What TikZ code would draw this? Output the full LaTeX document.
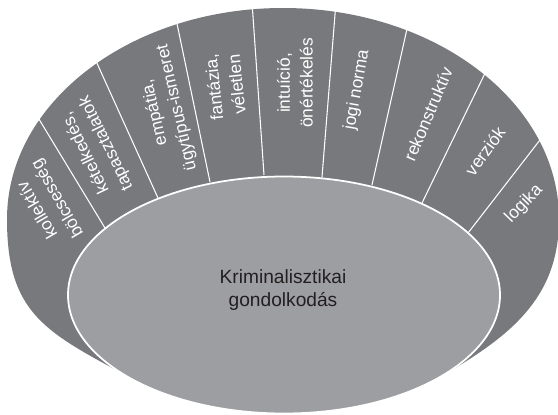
\documentclass[tikz,border=0pt]{standalone}
\usepackage{fontspec}
\setmainfont{Liberation Sans}
\definecolor{ringgray}{HTML}{78797D}
\definecolor{coregray}{HTML}{9D9EA2}
\definecolor{coretext}{HTML}{231F20}
\begin{document}
\begin{tikzpicture}[x=0.02cm, y=0.02cm,
    divider/.style={white, line width=0.6pt},
    seglabel/.style={white, align=center, inner sep=0pt, font=\fontsize{9.9}{13}\selectfont}]
    \useasboundingbox (0,0) rectangle (558,414);
    \fill [ringgray] (7,195) arc [start angle=180, end angle=0, x radius=276, y radius=211]
      .. controls (559,115) and (509,77) .. (440,37) -- (133,35)
      .. controls (45,82) and (7,100) .. cycle;
    \draw [divider] (105,186) -- (31,308);
    \draw [divider] (158,216) -- (91,364);
    \draw [divider] (210,232) -- (175,400);
    \draw [divider] (264,239) -- (252,412);
    \draw [divider] (322,237) -- (336,412);
    \draw [divider] (372,229) -- (409,394);
    \draw [divider] (422,211) -- (490,351);
    \draw [divider] (468,181) -- (550,287);
    \draw [white, line width=1pt, fill=coregray] (284,119) ellipse [x radius=216, y radius=118.5];
    \node [seglabel, rotate=120] (kollektiv) at (48,210) {kollektív\\bölcsesség};
    \node [seglabel, rotate=116] (ketely) at (96,266) {kételkedés,\\tapasztalatok};
    \node [seglabel, rotate=103] (empatia) at (166,304) {empátia,\\ügytípus-ismeret};
    \node [seglabel, rotate=96] (fantazia) at (225,328) {fantázia,\\véletlen};
    \node [seglabel, rotate=90] (intuicio) at (295,331) {intuíció,\\önértékelés};
    \node [seglabel, rotate=80] (jogi) at (357,324) {jogi norma};
    \node [seglabel, rotate=67] (rekon) at (428,300) {rekonstruktív};
    \node [seglabel, rotate=54] (verziok) at (485,263) {verziók};
    \node [seglabel, rotate=46] (logika) at (524,210) {logika};
    \node [coretext, align=center, inner sep=0pt, font=\fontsize{10.9}{13}\selectfont] (core) at (283,124)
      {Kriminalisztikai\\gondolkodás};
\end{tikzpicture}
\end{document}
